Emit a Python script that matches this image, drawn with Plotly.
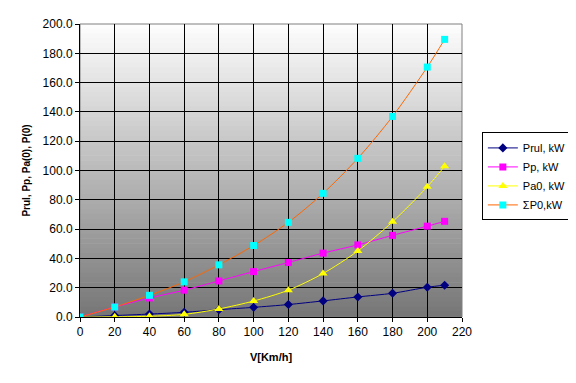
import plotly.graph_objects as go

speed = [0, 20, 40, 60, 80, 100, 120, 140, 160, 180, 200, 210]
prul = [0.0, 1.0, 2.0, 3.2, 5.0, 6.6, 8.5, 11.0, 13.7, 16.2, 20.3, 21.7]
pp = [0.0, 6.8, 13.0, 18.3, 24.6, 31.0, 37.2, 43.6, 49.2, 55.7, 62.0, 65.3]
pa0 = [0.0, 0.1, 0.5, 1.8, 5.5, 10.9, 18.3, 29.7, 45.1, 65.0, 88.9, 102.9]
sum_p0 = [0.0, 6.8, 14.8, 24.0, 35.6, 48.8, 64.6, 84.4, 108.3, 136.9, 170.6, 189.5]

x_ticks = [0, 20, 40, 60, 80, 100, 120, 140, 160, 180, 200, 220]
y_ticks = [0, 20, 40, 60, 80, 100, 120, 140, 160, 180, 200]

FONT = "Arial, Liberation Sans, sans-serif"

fig = go.Figure()

series = [
    ("Prul, kW", prul, "#000080", "#000080", "diamond", 7),
    ("Pp, kW", pp, "#ff00ff", "#ff00ff", "square", 7),
    ("Pa0, kW", pa0, "#ffff00", "#ffff00", "triangle-up", 8),
    ("ΣP0,kW", sum_p0, "#ff6600", "#00ffff", "square", 7),
]
for name, vals, lc, mc, sym, ms in series:
    fig.add_trace(go.Scatter(
        x=speed, y=vals, name=name, mode="lines+markers",
        line=dict(color=lc, width=1, shape="spline", smoothing=0.8),
        marker=dict(symbol=sym, size=ms, color=mc, line=dict(width=0)),
    ))

# gradient background bands
n = 60
shapes = []
top = (254, 254, 254)
bot = (118, 118, 118)
for i in range(n):
    f = (i + 0.5) / n
    c = tuple(int(round(top[k] + (bot[k] - top[k]) * f)) for k in range(3))
    shapes.append(dict(
        type="rect", xref="x domain", yref="y domain",
        x0=0, x1=1, y0=1 - (i + 1) / n, y1=1 - i / n + 0.002,
        fillcolor="rgb(%d,%d,%d)" % c, line=dict(width=0), layer="below",
    ))
shapes.append(dict(
    type="rect", xref="x domain", yref="y domain", x0=0, x1=1, y0=0, y1=1,
    line=dict(color="#808080", width=1), layer="below",
))

fig.update_layout(
    width=568, height=375,
    margin=dict(l=72, r=114, t=16, b=66, autoexpand=False),
    paper_bgcolor="white", plot_bgcolor="white",
    font=dict(family=FONT, size=12, color="black"),
    shapes=shapes,
    showlegend=True,
    legend=dict(
        x=1.052, y=0.63, xanchor="left", yanchor="top",
        bgcolor="white", bordercolor="black", borderwidth=1,
        font=dict(family=FONT, size=11, color="black"),
        tracegroupgap=0, itemwidth=30,
    ),
)
fig.update_xaxes(
    range=[0, 220], tickvals=x_ticks, ticktext=[str(v) for v in x_ticks],
    showgrid=True, gridcolor="black", gridwidth=1,
    showline=True, linecolor="black", linewidth=1,
    ticks="outside", ticklen=4, tickcolor="black",
    zeroline=False, automargin=False,
    title=dict(text="<b>V[Km/h]</b>", font=dict(family=FONT, size=11), standoff=14),
)
fig.update_yaxes(
    range=[0, 200], tickvals=y_ticks, tickformat=".1f",
    showgrid=True, gridcolor="black", gridwidth=1,
    showline=True, linecolor="black", linewidth=1,
    ticks="outside", ticklen=4, tickcolor="black",
    zeroline=False, automargin=False,
    title=dict(text="<b>Prul, Pp, Pa(0), P(0)</b>", font=dict(family=FONT, size=10), standoff=10),
)

fig.write_html("out.html")
